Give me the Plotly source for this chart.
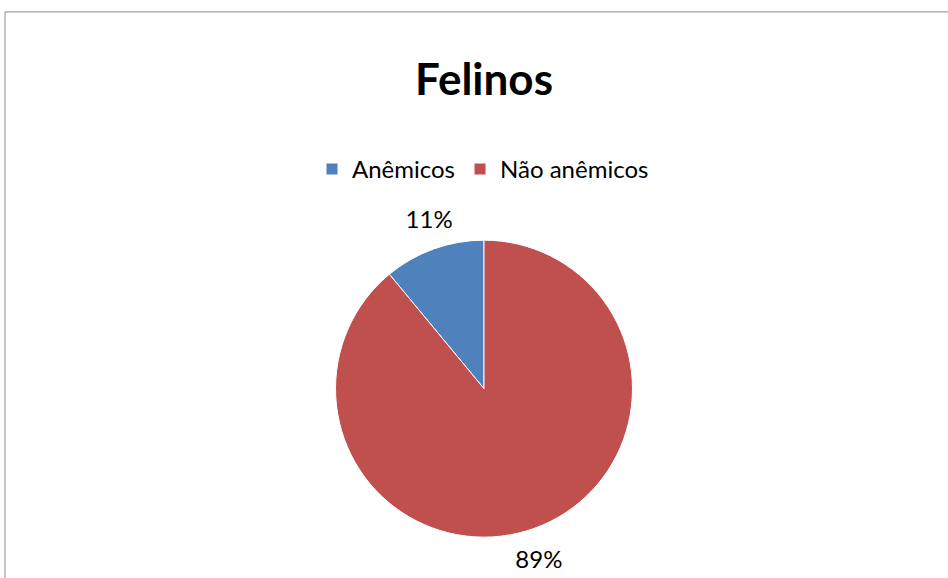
import plotly.graph_objects as go

W, H = 948, 578
labels = ["Anêmicos", "Não anêmicos"]
values = [11, 89]
colors = ["#4F81BD", "#C0504D"]
title_text = "Felinos"

FONT = "Lato, 'Liberation Sans', sans-serif"

cx, cy, r = 484, 390, 149
r_lab = 158            # radius the percentage labels hang from
lab_turn = 11          # small turn of the label ring so labels sit nearer the vertical
start_angle = 360 - 360 * values[0] / sum(values)


def dom(rad):
    return dict(x=[(cx - rad) / W, (cx + rad) / W],
                y=[max(0, 1 - (cy + rad) / H), min(1, 1 - (cy - rad) / H)])


fig = go.Figure()
fig.add_trace(go.Pie(
    labels=labels,
    values=values,
    sort=False,
    direction="clockwise",
    rotation=start_angle,
    marker=dict(colors=colors, line=dict(color="white", width=1)),
    textposition="none",
    hoverinfo="label+percent",
    domain=dom(r),
))
fig.add_trace(go.Pie(
    labels=labels,
    values=values,
    sort=False,
    direction="clockwise",
    rotation=start_angle + lab_turn,
    marker=dict(colors=["rgba(0,0,0,0)"] * len(values), line=dict(width=0)),
    textposition="outside",
    texttemplate="%{percent:.0%}",
    outsidetextfont=dict(family=FONT, size=24, color="black"),
    hoverinfo="skip",
    showlegend=False,
    domain=dom(r_lab),
))

fig.update_layout(
    width=W, height=H,
    margin=dict(l=0, r=0, t=0, b=0),
    paper_bgcolor="white",
    plot_bgcolor="white",
    title=dict(text="<b>" + title_text + "</b>", x=484 / W, xanchor="center", y=1 - 80 / H, yanchor="middle",
               font=dict(family=FONT, size=44, color="black")),
    legend=dict(orientation="h", x=483 / W, xanchor="center", y=1 - 170 / H, yanchor="middle",
                font=dict(family=FONT, size=24, color="black"), itemwidth=30,
                traceorder="normal"),
    shapes=[
        dict(type="line", xref="paper", yref="paper", x0=5 / W, x1=1.01, y0=1 - 12 / H, y1=1 - 12 / H,
             line=dict(color="#A0A0A0", width=1.2)),
        dict(type="line", xref="paper", yref="paper", x0=5 / W, x1=5 / W, y0=1 - 12 / H, y1=-0.01,
             line=dict(color="#A0A0A0", width=1.2)),
    ],
)

fig.write_html("out.html", config={"displayModeBar": False},
               post_script="document.body.style.margin='0px';document.body.style.padding='0px';")
